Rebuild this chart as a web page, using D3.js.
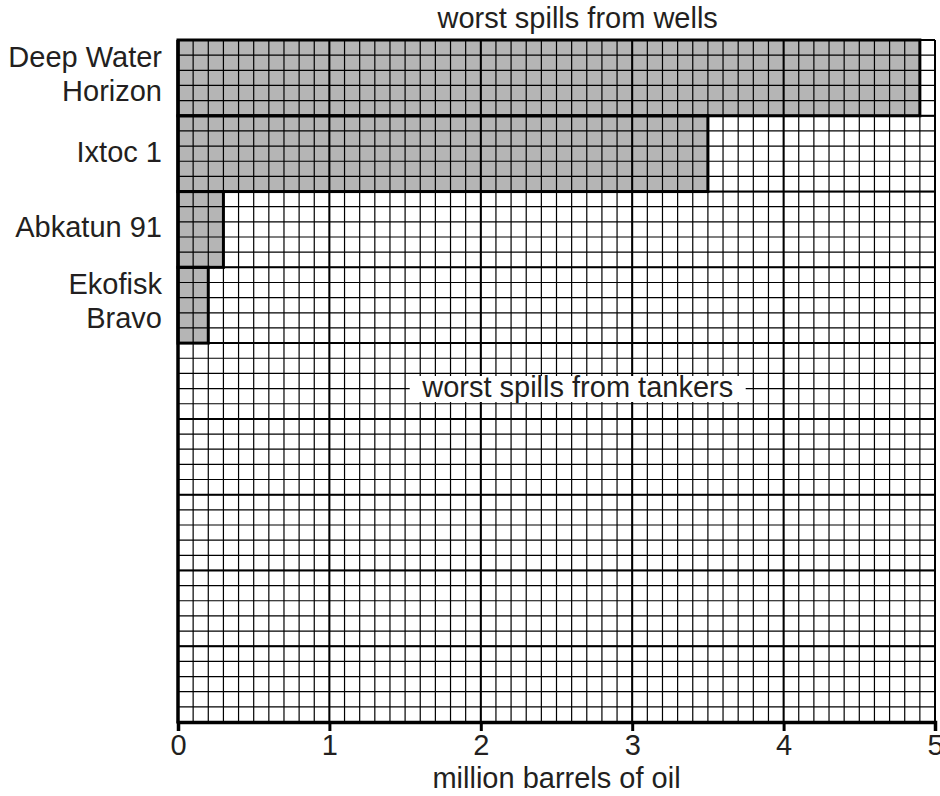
<!DOCTYPE html>
<html>
<head>
<meta charset="utf-8">
<script src="https://cdn.jsdelivr.net/npm/d3@7"></script>
<style>
  body { margin: 0; background: #fff; }
  text { font-family: "Liberation Sans", Arial, sans-serif; fill: #231f20; }
</style>
</head>
<body>
<div id="chart"></div>
<script>
// worst oil spills (wells), million barrels
const spills = ["Deep Water Horizon", "Ixtoc 1", "Abkatun 91", "Ekofisk Bravo"];
const barrels = [4.9, 3.5, 0.3, 0.2];
const labelLines = [["Deep Water", "Horizon"], ["Ixtoc 1"], ["Abkatun 91"], ["Ekofisk", "Bravo"]];
const xTicks = [0, 1, 2, 3, 4, 5];
const rowCount = 9; // 4 well rows + empty rows for tankers

const margin = { top: 40, right: 5, bottom: 74, left: 178 },
      width = 940 - margin.left - margin.right,
      height = 796 - margin.top - margin.bottom;

const svg = d3.select("#chart")
    .append("svg")
    .attr("width", 940)
    .attr("height", 796)
    .append("g")
    .attr("transform", `translate(${margin.left},${margin.top})`);

const x = d3.scaleLinear().domain([0, 5]).range([0, width]);
const y = d3.scaleLinear().domain([0, rowCount]).range([0, height]);

// bars first, grid drawn on top
svg.selectAll(".bar")
    .data(barrels)
    .enter()
    .append("rect")
    .attr("class", "bar")
    .attr("x", x(0))
    .attr("y", (d, i) => y(i))
    .attr("width", d => x(d) - x(0))
    .attr("height", y(1) - y(0))
    .attr("fill", "#b5b5b5");

// minor grid
const minorX = d3.range(0, 51).map(i => i / 10);
const minorY = d3.range(0, rowCount * 5 + 1).map(i => i / 5);

svg.append("g").selectAll("line")
    .data(minorX)
    .enter()
    .append("line")
    .attr("x1", d => x(d)).attr("x2", d => x(d))
    .attr("y1", 0).attr("y2", height)
    .attr("stroke", "#000")
    .attr("stroke-width", 1.2);

svg.append("g").selectAll("line")
    .data(minorY)
    .enter()
    .append("line")
    .attr("y1", d => y(d)).attr("y2", d => y(d))
    .attr("x1", 0).attr("x2", width)
    .attr("stroke", "#000")
    .attr("stroke-width", 1.2);

// major grid
svg.append("g").selectAll("line")
    .data(xTicks)
    .enter()
    .append("line")
    .attr("x1", d => x(d)).attr("x2", d => x(d))
    .attr("y1", 0).attr("y2", height)
    .attr("stroke", "#000")
    .attr("stroke-width", 2);

svg.append("g").selectAll("line")
    .data(d3.range(0, rowCount + 1))
    .enter()
    .append("line")
    .attr("y1", d => y(d)).attr("y2", d => y(d))
    .attr("x1", 0).attr("x2", width)
    .attr("stroke", "#000")
    .attr("stroke-width", 2);

// bar outlines
svg.selectAll(".bar-outline")
    .data(barrels)
    .enter()
    .append("rect")
    .attr("class", "bar-outline")
    .attr("x", x(0))
    .attr("y", (d, i) => y(i))
    .attr("width", d => x(d) - x(0))
    .attr("height", y(1) - y(0))
    .attr("fill", "none")
    .attr("stroke", "#000")
    .attr("stroke-width", 3);

// x axis
const xAxis = svg.append("g")
    .attr("transform", `translate(0, ${height})`)
    .call(d3.axisBottom(x).tickValues(xTicks).tickFormat(d3.format("d")).tickSize(9).tickPadding(3));
xAxis.select(".domain").attr("stroke", "#000").attr("stroke-width", 3.5);
xAxis.selectAll(".tick line").attr("stroke", "#000").attr("stroke-width", 3);
xAxis.selectAll(".tick text")
    .style("font-size", "29px")
    .attr("fill", "#231f20")
    .attr("font-family", "Liberation Sans, Arial, sans-serif");

// left axis line
svg.append("line")
    .attr("x1", 0).attr("x2", 0)
    .attr("y1", 0).attr("y2", height + 1.5)
    .attr("stroke", "#000")
    .attr("stroke-width", 3.5);

// category labels
const labels = svg.selectAll(".cat")
    .data(labelLines)
    .enter()
    .append("text")
    .attr("class", "cat")
    .attr("text-anchor", "end")
    .style("font-size", "29px")
    .attr("transform", (d, i) => `translate(-16, ${y(i + 0.5)})`);

labels.selectAll("tspan")
    .data(d => d.map((t, j) => ({ t, j, n: d.length })))
    .enter()
    .append("tspan")
    .attr("x", 0)
    .attr("y", d => d.n === 1 ? 8 : -11 + d.j * 34)
    .text(d => d.t);

// titles
svg.append("text")
    .attr("x", x(2.64))
    .attr("y", -12)
    .attr("text-anchor", "middle")
    .style("font-size", "29px")
    .text("worst spills from wells");

const tankerLabel = svg.append("g")
    .attr("transform", `translate(${x(2.64)}, ${y(4.5)})`);
tankerLabel.append("rect")
    .attr("x", -168).attr("y", -5)
    .attr("width", 336).attr("height", 26)
    .attr("fill", "#fff");
tankerLabel.append("text")
    .attr("y", 16)
    .attr("text-anchor", "middle")
    .style("font-size", "29px")
    .text("worst spills from tankers");

svg.append("text")
    .attr("x", width / 2)
    .attr("y", height + 66)
    .attr("text-anchor", "middle")
    .style("font-size", "29px")
    .text("million barrels of oil");
</script>
</body>
</html>
